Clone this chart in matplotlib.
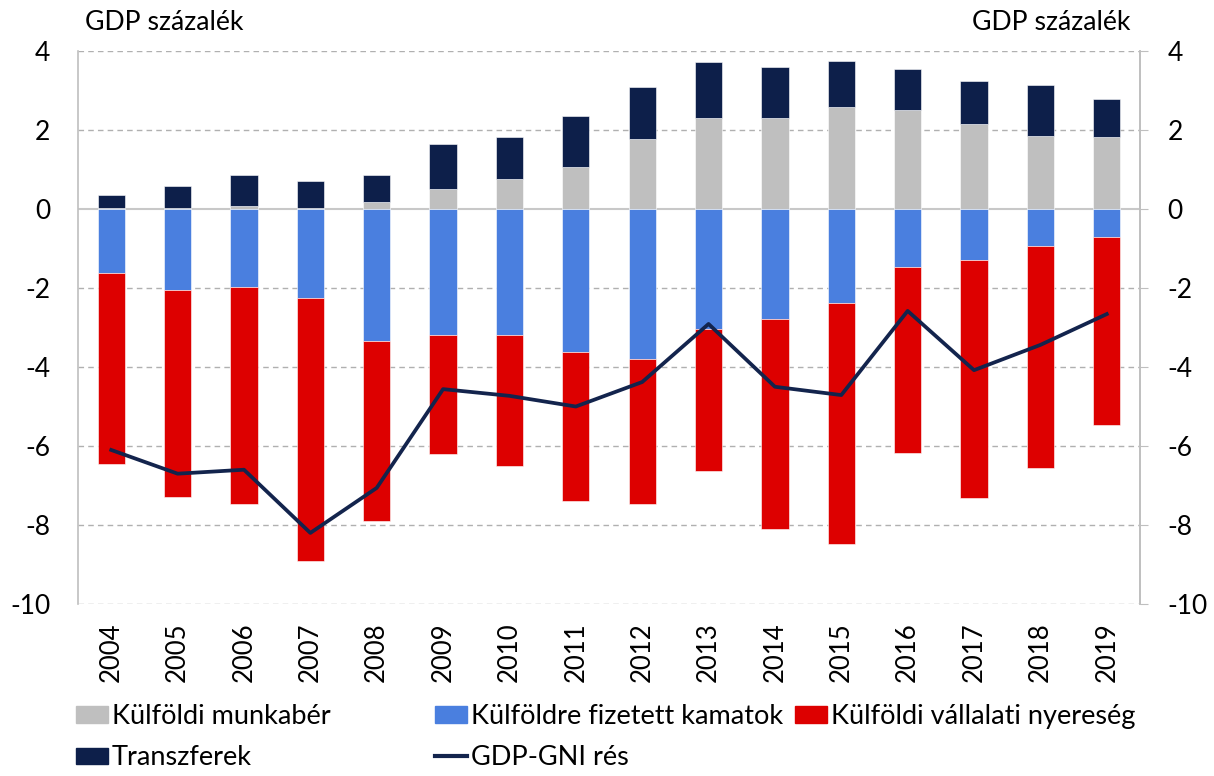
import numpy as np
import matplotlib.pyplot as plt
from matplotlib.patches import Patch
from matplotlib.lines import Line2D

plt.rcParams['font.family'] = ['Lato', 'DejaVu Sans']

years = [str(y) for y in range(2004, 2020)]
munkaber = [0.02, 0.02, 0.08, 0.03, 0.18, 0.50, 0.76, 1.06, 1.77, 2.30, 2.30, 2.58, 2.50, 2.15, 1.85, 1.82]
transzfer = [0.33, 0.56, 0.78, 0.67, 0.68, 1.15, 1.06, 1.29, 1.32, 1.42, 1.30, 1.17, 1.04, 1.09, 1.29, 0.96]
kamat = [-1.62, -2.05, -1.97, -2.25, -3.34, -3.20, -3.20, -3.62, -3.80, -3.04, -2.78, -2.38, -1.47, -1.29, -0.94, -0.71]
nyereseg = [-4.83, -5.25, -5.50, -6.65, -4.56, -3.00, -3.30, -3.77, -3.67, -3.59, -5.32, -6.10, -4.71, -6.03, -5.62, -4.76]
gdp_gni = [-6.10, -6.70, -6.60, -8.20, -7.06, -4.56, -4.73, -5.00, -4.38, -2.91, -4.50, -4.71, -2.58, -4.08, -3.44, -2.66]

c_gray = '#BFBFBF'
c_blue = '#4A7FDF'
c_red = '#DD0000'
c_navy = '#0D1F4A'

fig = plt.figure(figsize=(12.14, 7.76), dpi=100)
ax = fig.add_axes([0.0643, 0.2216, 0.8747, 0.7127])

x = np.arange(len(years))
w = 0.41
ax.bar(x, munkaber, w, color=c_gray, edgecolor='white', linewidth=0.4, zorder=3)
ax.bar(x, transzfer, w, bottom=munkaber, color=c_navy, edgecolor='white', linewidth=0.4, zorder=3)
ax.bar(x, kamat, w, color=c_blue, edgecolor='white', linewidth=0.4, zorder=3)
ax.bar(x, nyereseg, w, bottom=kamat, color=c_red, edgecolor='white', linewidth=0.4, zorder=3)
ax.plot(x, gdp_gni, color='#13244D', linewidth=2.7, zorder=4)

ax.set_xlim(-0.5, len(years) - 0.5)
ax.set_ylim(-10, 4)
yt = np.arange(-10, 5, 2)
ax.set_yticks(yt)
ax.set_yticklabels([str(v) for v in yt])
ax.set_xticks(x)
ax.set_xticklabels(years, rotation=90)

for v in yt:
    if v != 0:
        ax.axhline(v, color='#B0B0B0', linestyle=(0, (4, 3)), linewidth=1, zorder=1)
ax.axhline(0, color='#C8C8C8', linewidth=1.5, zorder=2)

for s in ['top', 'bottom']:
    ax.spines[s].set_visible(False)
for s in ['left', 'right']:
    ax.spines[s].set_color('#BFBFBF')
    ax.spines[s].set_linewidth(1.2)

ax.tick_params(axis='x', length=0, labelsize=18.5, pad=13)
ax.tick_params(axis='y', length=0, labelsize=19, pad=20)

ax2 = ax.twinx()
ax2.set_ylim(ax.get_ylim())
ax2.set_yticks(yt)
ax2.set_yticklabels([str(v) for v in yt])
ax2.tick_params(axis='y', length=6, color='#BFBFBF', labelsize=19, pad=14)
for s in ['top', 'bottom', 'left']:
    ax2.spines[s].set_visible(False)
ax2.spines['right'].set_color('#BFBFBF')
ax2.spines['right'].set_linewidth(1.2)

fig.text(85 / 1214, 1 - 23 / 776, 'GDP százalék', fontsize=19.2, ha='left', va='center')
fig.text(1130 / 1214, 1 - 23 / 776, 'GDP százalék', fontsize=19.2, ha='right', va='center')

leg_kw = dict(frameon=False, fontsize=19.5, handlelength=1.18, handleheight=0.55,
              handletextpad=0.15, labelspacing=0.6, borderaxespad=0, borderpad=0)
cols = [
    (76, [Patch(color=c_gray), Patch(color=c_navy)], ['Külföldi munkabér', 'Transzferek']),
    (435, [Patch(color=c_blue), Line2D([], [], color='#13244D', lw=3)], ['Külföldre fizetett kamatok', 'GDP-GNI rés']),
    (795, [Patch(color=c_red)], ['Külföldi vállalati nyereség']),
]
for xp, hs, ls in cols:
    fig.legend(hs, ls, loc='upper left', bbox_to_anchor=(xp / 1214, 1 - 704 / 776), **leg_kw)

fig.savefig('out.png', dpi=100)
